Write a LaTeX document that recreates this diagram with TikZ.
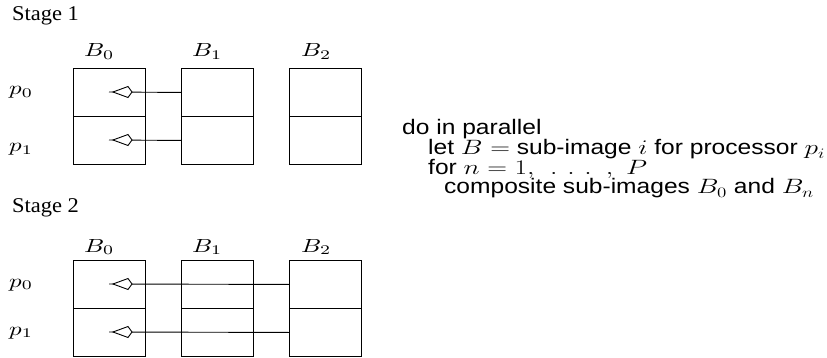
\documentclass[tikz,border=0pt]{standalone}
\usepackage{graphicx}
\usepackage[no-math]{fontspec}
\setmainfont{Liberation Serif}
\newfontfamily\sansA[FakeStretch=1.17]{Liberation Sans}
\newfontfamily\serifA[FakeStretch=1.07]{Liberation Serif}
\usetikzlibrary{calc}
\newcommand\bigmath[1]{\scalebox{2.5}[1.9]{$#1$}}
\newcommand\cmx[1]{\scalebox{1.32}[1]{$#1$}}
\begin{document}
\begin{tikzpicture}[x=1pt,y=-1pt,
  cell/.style={draw, line width=0.9pt, minimum width=72pt, minimum height=48pt, inner sep=0pt, anchor=north west},
  conn/.style={draw, line width=0.9pt},
  kitehead/.style={draw, line width=0.9pt, fill=white, line join=miter},
  blab/.style={inner sep=0pt, anchor=base west},
  stagelab/.style={inner sep=0pt, anchor=base west, font=\serifA\fontsize{21}{25}\selectfont},
  code/.style={inner sep=0pt, anchor=base west, font=\sansA\fontsize{21}{24}\selectfont}]
\useasboundingbox (0,0) rectangle (827,358);

% Stage 1
\node[stagelab] (st1) at (12,21) {Stage 1};
\node[blab] (la0) at (84,57) {\bigmath{B_0}};
\node[blab] (la1) at (192,57) {\bigmath{B_1}};
\node[blab] (la2) at (301,57) {\bigmath{B_2}};
\node[blab] (lp0) at (9,95) {\bigmath{p_0}};
\node[blab] (lp1) at (9,152) {\bigmath{p_1}};
\node[cell] (a0t) at (73,68) {};
\node[cell] (a0b) at (73,116) {};
\node[cell] (a1t) at (181,68) {};
\node[cell] (a1b) at (181,116) {};
\node[cell] (a2t) at (289,68) {};
\node[cell] (a2b) at (289,116) {};
\coordinate (ta0) at (109,92);
\coordinate (ta1) at (109,140);
\draw[conn] (a1t.west) -- (ta0);
\draw[conn] (a1b.west) -- (ta1);
\draw[kitehead] ($(ta0)+(4,0)$) -- ++(15,-5.5) -- ++(4,5.5) -- ++(-4,5.5) -- cycle;
\draw[kitehead] ($(ta1)+(4,0)$) -- ++(15,-5.5) -- ++(4,5.5) -- ++(-4,5.5) -- cycle;

% Stage 2
\node[stagelab] (st2) at (12,213) {Stage 2};
\node[blab] (lc0) at (84,252) {\bigmath{B_0}};
\node[blab] (lc1) at (192,252) {\bigmath{B_1}};
\node[blab] (lc2) at (301,252) {\bigmath{B_2}};
\node[blab] (lq0) at (9,287) {\bigmath{p_0}};
\node[blab] (lq1) at (9,335) {\bigmath{p_1}};
\node[cell] (c0t) at (73,260) {};
\node[cell] (c0b) at (73,308) {};
\node[cell] (c1t) at (181,260) {};
\node[cell] (c1b) at (181,308) {};
\node[cell] (c2t) at (289,260) {};
\node[cell] (c2b) at (289,308) {};
\coordinate (tc0) at (109,284);
\coordinate (tc1) at (109,332);
\draw[conn] (c2t.west) -- (tc0);
\draw[conn] (c2b.west) -- (tc1);
\draw[kitehead] ($(tc0)+(4,0)$) -- ++(15,-5.5) -- ++(4,5.5) -- ++(-4,5.5) -- cycle;
\draw[kitehead] ($(tc1)+(4,0)$) -- ++(15,-5.5) -- ++(4,5.5) -- ++(-4,5.5) -- cycle;

% Pseudocode
\node[code] (l1) at (402,135) {do in parallel};
\node[code] (l2) at (428,155) {let \cmx{B =} sub-image \cmx{i} for processor \cmx{p_i}};
\node[code] (l3) at (428,175) {for \cmx{n = 1,\hspace{0.4em}.\hspace{0.35em}.\hspace{0.35em}.\hspace{0.5em},\hspace{0.3em}P}};
\node[code] (l4) at (444,194) {composite sub-images \cmx{B_0} and \cmx{B_n}};
\end{tikzpicture}
\end{document}
